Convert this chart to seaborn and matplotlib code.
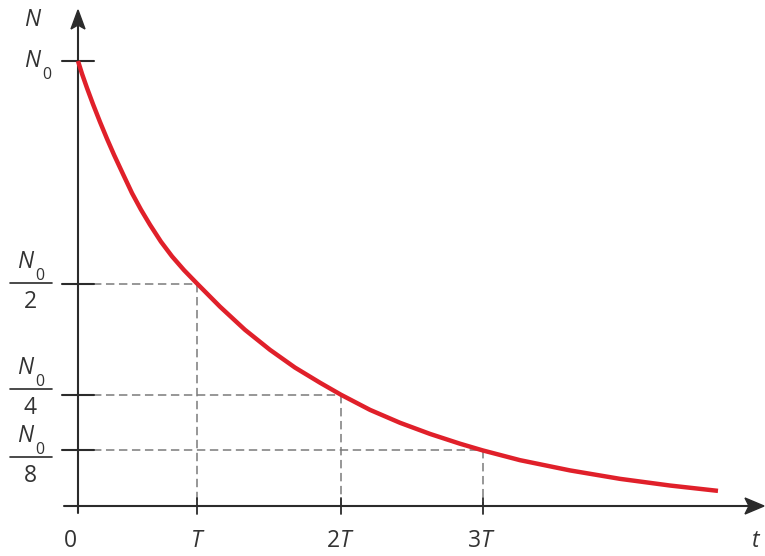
import numpy as np
import pandas as pd
import seaborn as sns
import matplotlib.pyplot as plt
from matplotlib.patches import Polygon

# decay curve (t in units of the first tick, N in units of N0)
curve_t = [0.0, 0.034, 0.076, 0.126, 0.185, 0.244, 0.303, 0.378, 0.454, 0.529,
           0.605, 0.697, 0.790, 0.891, 1.0, 1.193, 1.403, 1.613, 1.824, 2.034,
           2.21, 2.454, 2.706, 2.958, 3.210, 3.40, 3.714, 4.134, 4.555, 4.975, 5.378]
curve_n = [1.0, 0.971, 0.939, 0.903, 0.863, 0.825, 0.789, 0.746, 0.703, 0.666,
           0.632, 0.594, 0.561, 0.530, 0.5, 0.448, 0.396, 0.351, 0.311, 0.277,
           0.25, 0.216, 0.187, 0.162, 0.140, 0.125, 0.103, 0.080, 0.061, 0.046, 0.034]

t_ticks = [0.0, 1.0, 2.21, 3.40]
t_labels = ['$\\mathrm{0}$', '$T$', '$\\mathrm{2}T$', '$\\mathrm{3}T$']
n_levels = [1.0, 0.5, 0.25, 0.125]
n_denoms = [None, '2', '4', '8']

sns.set_style('white')
plt.rcParams['font.family'] = ['Open Sans', 'DejaVu Sans']
plt.rcParams['mathtext.fontset'] = 'custom'
plt.rcParams['mathtext.rm'] = 'Open Sans'
plt.rcParams['mathtext.it'] = 'Open Sans:italic'

# pixel -> data helpers (origin at pixel 78,506)
X0, Y0, SX, SY = 78, 506, 119, 445
def dx(p):
    return (p - X0) / SX
def dy(p):
    return (Y0 - p) / SY

fig = plt.figure(figsize=(7.65, 5.56), dpi=100)
ax = fig.add_axes([0, 0, 1, 1])
ax.set_xlim(dx(0), dx(765))
ax.set_ylim(dy(556), dy(0))
ax.axis('off')

axis_col = '#2b2b2b'
txt_col = '#333333'
dash_col = '#7a7a7a'
fs = 16.5

# axes lines
ax.plot([dx(64), dx(750)], [0, 0], color=axis_col, lw=1.5, zorder=3)
ax.plot([0, 0], [dy(513), dy(24)], color=axis_col, lw=1.5, zorder=3)

# arrow heads
ax.add_patch(Polygon([(dx(764), 0), (dx(745), dy(498)), (dx(749), 0), (dx(745), dy(514))],
                     closed=True, color=axis_col, zorder=4))
ax.add_patch(Polygon([(0, dy(10)), (dx(71), dy(29)), (0, dy(25)), (dx(85), dy(29))],
                     closed=True, color=axis_col, zorder=4))

# dashed guides
for t, n in zip(t_ticks[1:], n_levels[1:]):
    ax.plot([dx(93), t], [n, n], color=dash_col, lw=1.1, dashes=(5.5, 3), zorder=2)
    ax.plot([t, t], [n, 0], color=dash_col, lw=1.1, dashes=(5.5, 3), zorder=2)

# ticks crossing the axes
for n in n_levels:
    ax.plot([dx(62), dx(94)], [n, n], color=axis_col, lw=1.5, zorder=3)
for t in t_ticks[1:]:
    ax.plot([t, t], [dy(498), dy(514)], color=axis_col, lw=1.3, zorder=3)

# decay curve
df = pd.DataFrame({'t': curve_t, 'N': curve_n})
sns.lineplot(data=df, x='t', y='N', ax=ax, color='#e0202a', lw=3.2,
             sort=False, zorder=5, solid_capstyle='butt')


def n0_label(xc, yc):
    # italic N with a low upright subscript 0, placed by pixel centre of the N
    ax.text(dx(xc), dy(yc), '$N$', fontsize=fs, ha='center', va='center', color=txt_col)
    ax.text(dx(xc + 14), dy(yc + 14), '0', fontsize=fs * 0.7, ha='center',
            va='center', color=txt_col)


ax.text(dx(33), dy(20), '$N$', fontsize=fs, ha='center', va='center', color=txt_col)
n0_label(33, 61)

frac_y = [None, 283, 389, 457]
for n, d, yl in zip(n_levels, n_denoms, frac_y):
    if d is None:
        continue
    ax.plot([dx(10), dx(52)], [dy(yl), dy(yl)], color=axis_col, lw=1.2)
    n0_label(26, yl - 21)
    ax.text(dx(30), dy(yl + 19), d, fontsize=fs, ha='center', va='center', color=txt_col)

label_x = [70, 198, 340, 481]
for px_, lab in zip(label_x, t_labels):
    ax.text(dx(px_), dy(541), lab, fontsize=fs, ha='center', va='center', color=txt_col)
ax.text(dx(756), dy(541), '$t$', fontsize=fs, ha='center', va='center', color=txt_col)

fig.savefig('out.png', dpi=100)
